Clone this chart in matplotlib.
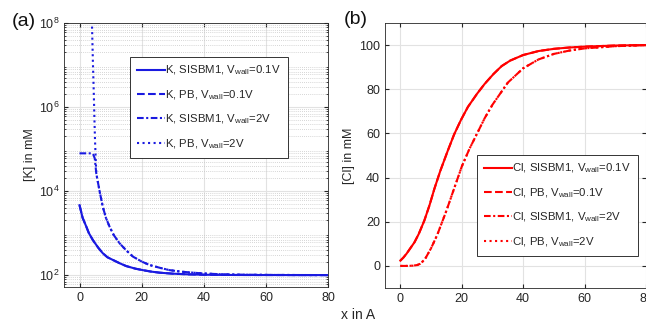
import numpy as np
import matplotlib
matplotlib.use("Agg")
import matplotlib.pyplot as plt
from matplotlib.ticker import LogLocator, NullFormatter

plt.rcParams['font.family'] = ['Liberation Sans', 'DejaVu Sans']
plt.rcParams['mathtext.fontset'] = 'custom'
plt.rcParams['mathtext.rm'] = 'Liberation Sans'

# ---------------- data ----------------
# panel (a): K concentration (mM)
xK_s01 = [0, 1, 2.2, 3, 4.3, 6, 7.5, 9, 10.8, 13, 15, 18, 20.4, 23, 25.8, 30, 35, 40, 45, 50, 60, 70, 80]
K_s01 = [4600, 2300, 1410, 1000, 680, 450, 330, 265, 228, 190, 164, 142, 131, 121, 114, 108, 104, 102, 101, 100.5, 100.2, 100, 100]
xK_pb01 = xK_s01
K_pb01 = K_s01
xK_s2 = [0, 2, 4.1, 4.5, 4.9, 5.4, 6.5, 7.5, 8.5, 9.7, 11, 12.9, 15, 17.2, 20, 22.6, 26, 29, 33, 36.6, 40, 45, 50, 60, 70, 80]
K_s2 = [79000, 79000, 79000, 72000, 60000, 26000, 9600, 4200, 2300, 1400, 900, 570, 390, 275, 210, 173, 148, 131, 120, 114, 109, 105, 102.5, 101, 100.3, 100]
xK_pb2 = [3.0, 3.6, 4.0, 4.3, 4.6, 4.8, 5.0, 5.4, 6.5, 7.5, 8.5, 9.7, 11, 12.9, 15, 17.2, 20, 22.6, 26, 29, 33, 36.6, 40, 45, 50, 60, 70, 80]
K_pb2 = [1e11, 1.5e9, 1e8, 1.2e7, 2e6, 5e5, 1.5e5, 26000, 9600, 4200, 2300, 1400, 900, 570, 390, 275, 210, 173, 148, 131, 120, 114, 109, 105, 102.5, 101, 100.3, 100]

# panel (b): Cl concentration (mM)
xCl_s01 = [0, 1, 2, 3, 4.6, 6, 7.8, 9.5, 11.1, 13, 15.4, 17.5, 19.7, 22, 25, 27.5, 30.4, 33, 35.8, 40, 45, 50, 55, 60, 70, 80]
Cl_s01 = [2.4, 3.8, 5.5, 7.5, 10.7, 14.5, 20.5, 27.5, 35, 43, 52, 59.5, 66, 72, 78, 82.5, 87, 90.5, 93, 95.5, 97.3, 98.3, 98.9, 99.3, 99.8, 100]
xCl_pb01 = xCl_s01
Cl_pb01 = Cl_s01
xCl_s2 = [0, 2, 4, 5.5, 6.5, 8, 10, 12, 15, 17.5, 20, 22.5, 25, 27.5, 30, 32.5, 35, 40, 45, 50, 55, 60, 70, 80]
Cl_s2 = [0, 0, 0.1, 0.4, 1.0, 3.0, 8.0, 14, 25, 35, 45, 53, 60, 67, 73, 78, 83, 89.5, 93.5, 96, 97.5, 98.5, 99.5, 100]
xCl_pb2 = xCl_s2
Cl_pb2 = Cl_s2

legend_K = ['K, SISBM1, V$_\\mathregular{wall}$=0.1V', 'K, PB, V$_\\mathregular{wall}$=0.1V',
            'K, SISBM1, V$_\\mathregular{wall}$=2V', 'K, PB, V$_\\mathregular{wall}$=2V']
legend_Cl = ['Cl, SISBM1, V$_\\mathregular{wall}$=0.1V', 'Cl, PB, V$_\\mathregular{wall}$=0.1V',
             'Cl, SISBM1, V$_\\mathregular{wall}$=2V', 'Cl, PB, V$_\\mathregular{wall}$=2V']

# ---------------- figure ----------------
fig = plt.figure(figsize=(6.46, 3.22), dpi=100)
axA = fig.add_axes([64/646, 35/322, 264/646, 264/322])
axB = fig.add_axes([385/646, 34/322, 261/646, 265/322])

blue = '#1a1ae0'
red = '#ff0000'
lw = 1.5
styles = ['-', '--', (0, (3.2, 1.2, 1, 1.2)), ':']

axA.plot(xK_s01, K_s01, color=blue, lw=lw, ls=styles[0], label=legend_K[0])
axA.plot(xK_pb01, K_pb01, color=blue, lw=lw, ls=styles[1], label=legend_K[1])
axA.plot(xK_s2, K_s2, color=blue, lw=lw, ls=styles[2], label=legend_K[2])
axA.plot(xK_pb2, K_pb2, color=blue, lw=lw, ls=styles[3], label=legend_K[3])

axB.plot(xCl_s01, Cl_s01, color=red, lw=lw, ls=styles[0], label=legend_Cl[0])
axB.plot(xCl_pb01, Cl_pb01, color=red, lw=lw, ls=styles[1], label=legend_Cl[1])
axB.plot(xCl_s2, Cl_s2, color=red, lw=lw, ls=styles[2], label=legend_Cl[2])
axB.plot(xCl_pb2, Cl_pb2, color=red, lw=lw, ls=styles[3], label=legend_Cl[3])

txtc = '#262626'
for ax in (axA, axB):
    ax.set_xlim(-5, 80)
    ax.set_xticks([0, 20, 40, 60, 80])
    ax.tick_params(direction='in', which='both', top=True, right=True,
                   labelsize=9, colors=txtc, length=3)
    for s in ax.spines.values():
        s.set_color('#262626')
        s.set_linewidth(0.6)
    ax.grid(True, which='major', color='#e2e2e2', lw=0.8, ls='-')
    ax.set_axisbelow(True)

axA.set_yscale('log')
axA.set_ylim(52, 1e8)
axA.set_yticks([1e2, 1e4, 1e6, 1e8])
axA.yaxis.set_minor_locator(LogLocator(base=10, subs=np.arange(2, 10), numticks=20))
axA.yaxis.set_minor_formatter(NullFormatter())
axA.grid(True, which='minor', axis='y', color='#c8c8c8', lw=0.6, ls=(0, (1, 1.5)))
axA.tick_params(which='minor', length=1.5)
axA.set_ylabel('[K] in mM', fontsize=9, color=txtc, labelpad=2)

axB.set_ylim(-10, 110)
axB.set_yticks([0, 20, 40, 60, 80, 100])
axB.set_ylabel('[Cl] in mM', fontsize=9, color=txtc, labelpad=3)

legA = axA.legend(loc='upper left', bbox_to_anchor=((130-64)/264, (287-57)/264), fontsize=8.2,
                  handlelength=2.5, handletextpad=0.0, labelspacing=0.95, borderpad=0.6,
                  fancybox=False, framealpha=1, edgecolor='#333333', borderaxespad=0)
legA.get_frame().set_linewidth(0.7)
legB = axB.legend(loc='upper left', bbox_to_anchor=((477-385)/261, (288-155)/265), fontsize=8.2,
                  handlelength=2.5, handletextpad=0.0, labelspacing=0.95, borderpad=0.6,
                  fancybox=False, framealpha=1, edgecolor='#333333', borderaxespad=0)
legB.get_frame().set_linewidth(0.7)
for leg in (legA, legB):
    for t in leg.get_texts():
        t.set_color(txtc)

fig.text(24/646, 1 - 22/322, '(a)', fontsize=14, ha='center', va='center', color='#111111')
fig.text(356/646, 1 - 20/322, '(b)', fontsize=14, ha='center', va='center', color='#111111')
fig.text(358/646, 1 - 315/322, 'x in A', fontsize=10, ha='center', va='center', color=txtc)

fig.savefig('out.png', dpi=100)
